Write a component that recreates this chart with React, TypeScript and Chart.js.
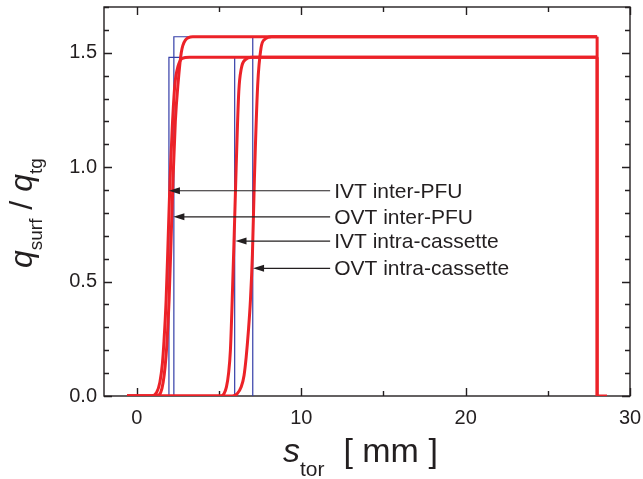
import React, { useEffect, useRef } from "react";
import { Chart, registerables } from "chart.js";

Chart.register(...registerables);

// ---- axis ticks ----
const xTicks = [0, 10, 20, 30];
const yTicks = [0, 0.5, 1.0, 1.5];

// ---- red (smoothed) profiles ----
const ivtInterX = [-0.6, 0.9, 1.2, 1.4, 1.55, 1.65, 1.78, 1.9, 2.02, 2.15, 2.31, 2.5, 2.76, 3.2, 28];
const ivtInterY = [0, 0, 0.015, 0.06, 0.14, 0.24, 0.42, 0.68, 0.95, 1.17, 1.36, 1.44, 1.475, 1.48, 1.48];

const ovtInterX = [-0.6, 1.2, 1.45, 1.6, 1.72, 1.82, 1.96, 2.08, 2.2, 2.34, 2.51, 2.7, 2.95, 3.4, 28];
const ovtInterY = [0, 0, 0.015, 0.06, 0.13, 0.22, 0.42, 0.68, 0.95, 1.2, 1.37, 1.5, 1.555, 1.57, 1.57];

const ivtIntraX = [-0.6, 5.1, 5.3, 5.45, 5.58, 5.69, 5.8, 5.92, 6.04, 6.2, 6.35, 6.6, 7.0, 28];
const ivtIntraY = [0, 0, 0.01, 0.04, 0.1, 0.2, 0.42, 0.7, 1.0, 1.33, 1.43, 1.47, 1.48, 1.48];

const ovtIntraX = [-0.6, 5.8, 6.1, 6.35, 6.52, 6.65, 6.78, 6.91, 7.03, 7.15, 7.35, 7.55, 7.8, 8.2, 28];
const ovtIntraY = [0, 0, 0.01, 0.04, 0.09, 0.17, 0.28, 0.42, 0.62, 0.95, 1.36, 1.52, 1.56, 1.57, 1.57];

// trailing edge of the profiles
const edgeHighX = [28, 28, 28.6];
const edgeHighY = [1.57, 0, 0];
const edgeLowX = [28, 28];
const edgeLowY = [1.48, 0];

// ---- blue ideal steps ----
const stepX = [1.95, 2.25, 5.95, 7.05];
const stepTop = [1.48, 1.57, 1.48, 1.57];
const stepEnd = 28;

// ---- annotations ----
const annLabels = ["IVT inter-PFU", "OVT inter-PFU", "IVT intra-cassette", "OVT intra-cassette"];
const annTipX = [1.95, 2.22, 6.0, 7.07];
const annY = [0.897, 0.783, 0.677, 0.558];
const annTextX = 12;

const RED = "rgb(236,34,40)";
const BLUE = "rgb(52,62,168)";
const INK = "#231f20";
const FONT = "'Liberation Sans', Arial, sans-serif";

const zip = (xs: number[], ys: number[]) => xs.map((x, i) => ({ x, y: ys[i] }));

const decor = {
  id: "decor",
  beforeDatasetsDraw(chart: any) {
    const { ctx, chartArea: a, scales } = chart;
    const xs = scales.x, ys = scales.y;
    ctx.save();
    ctx.strokeStyle = INK;
    ctx.lineWidth = 1.4;
    ctx.strokeRect(a.left, a.top, a.right - a.left, a.bottom - a.top);
    ctx.beginPath();
    for (let k = 0; k <= 17; k++) {
      const v = k / 10;
      const len = k % 5 === 0 ? 8 : 5;
      const py = Math.round(ys.getPixelForValue(v)) + 0.5;
      ctx.moveTo(a.left, py); ctx.lineTo(a.left + len, py);
      ctx.moveTo(a.right, py); ctx.lineTo(a.right - len, py);
    }
    for (let k = 0; k <= 6; k++) {
      const v = k * 5;
      const len = v % 10 === 0 ? 8 : 5;
      const px = Math.round(xs.getPixelForValue(v)) + 0.5;
      ctx.moveTo(px, a.bottom); ctx.lineTo(px, a.bottom - len);
      ctx.moveTo(px, a.top); ctx.lineTo(px, a.top + len);
    }
    ctx.stroke();
    ctx.restore();
  },
  afterDatasetsDraw(chart: any) {
    const { ctx, chartArea: a, scales } = chart;
    const xs = scales.x, ys = scales.y;
    ctx.save();
    // annotations
    ctx.fillStyle = INK;
    ctx.strokeStyle = INK;
    ctx.lineWidth = 1.2;
    ctx.font = `21px ${FONT}`;
    ctx.textBaseline = "middle";
    ctx.textAlign = "left";
    annLabels.forEach((lab, i) => {
      const py = ys.getPixelForValue(annY[i]);
      const tx = xs.getPixelForValue(annTextX);
      const tip = xs.getPixelForValue(annTipX[i]);
      ctx.beginPath();
      ctx.moveTo(tx - 4, py);
      ctx.lineTo(tip + 8, py);
      ctx.stroke();
      ctx.beginPath();
      ctx.moveTo(tip, py);
      ctx.lineTo(tip + 11, py - 3.5);
      ctx.lineTo(tip + 11, py + 3.5);
      ctx.closePath();
      ctx.fill();
      ctx.fillText(lab, tx, py + 1);
    });

    // x title
    ctx.textBaseline = "alphabetic";
    let x0 = a.left + 179;
    const base = a.bottom + 66;
    ctx.font = `italic 34px ${FONT}`;
    ctx.fillText("s", x0, base);
    x0 += ctx.measureText("s").width;
    ctx.font = `21px ${FONT}`;
    ctx.fillText("tor", x0, base + 14);
    x0 += ctx.measureText("tor").width;
    ctx.font = `34px ${FONT}`;
    ctx.fillText("  [ mm ]", x0, base);

    // y title
    ctx.translate(32, a.top + 261);
    ctx.rotate(-Math.PI / 2);
    let t = 0;
    const parts: [string, string, number][] = [
      ["q", `italic 32px ${FONT}`, 0],
      ["surf", `19px ${FONT}`, 10],
      [" / ", `32px ${FONT}`, 0],
      ["q", `italic 32px ${FONT}`, 0],
      ["tg", `19px ${FONT}`, 10],
    ];
    parts.forEach(([s, f, dy]) => {
      ctx.font = f;
      ctx.fillText(s, t, dy);
      t += ctx.measureText(s).width;
    });
    ctx.restore();
  },
};

const zeroPad = (s: any) => {
  s.paddingTop = 0;
  s.paddingBottom = 0;
  s.paddingLeft = 0;
  s.paddingRight = 0;
};

export default function App() {
  const ref = useRef<HTMLCanvasElement | null>(null);
  useEffect(() => {
    if (!ref.current) return;
    const redCurves = [
      zip(ivtInterX, ivtInterY),
      zip(ovtInterX, ovtInterY),
      zip(ivtIntraX, ivtIntraY),
      zip(ovtIntraX, ovtIntraY),
    ];
    const blueSets = stepX.map((sx, i) => ({
      data: [
        { x: sx, y: 0 },
        { x: sx, y: stepTop[i] },
        { x: stepEnd, y: stepTop[i] },
      ],
      borderColor: BLUE,
      borderWidth: 1.2,
      pointRadius: 0,
      tension: 0,
      order: 5,
    }));
    const redSets = redCurves.map((d) => ({
      data: d,
      borderColor: RED,
      borderWidth: 3,
      pointRadius: 0,
      cubicInterpolationMode: "monotone" as const,
      order: 1,
    }));
    const edgeSets = [zip(edgeHighX, edgeHighY), zip(edgeLowX, edgeLowY)].map((d) => ({
      data: d,
      borderColor: RED,
      borderWidth: 3,
      pointRadius: 0,
      tension: 0,
      order: 1,
    }));
    const chart = new Chart(ref.current, {
      type: "line",
      data: { datasets: [...blueSets, ...redSets, ...edgeSets] as any },
      options: {
        animation: false,
        responsive: false,
        devicePixelRatio: 1,
        layout: { padding: { left: 0, top: 7, right: 13, bottom: 0 } },
        plugins: { legend: { display: false }, tooltip: { enabled: false } },
        scales: {
          x: {
            type: "linear",
            min: -2,
            max: 30,
            afterBuildTicks: (s: any) => { s.ticks = xTicks.map((v) => ({ value: v })); },
            afterFit: (s: any) => { s.height = 83; zeroPad(s); },
            ticks: { font: { size: 20, family: FONT }, color: INK, padding: 10, maxRotation: 0, callback: (v: any) => String(v) },
            grid: { display: false, drawTicks: false },
            border: { display: false },
          },
          y: {
            type: "linear",
            min: 0,
            max: 1.7,
            afterBuildTicks: (s: any) => { s.ticks = yTicks.map((v) => ({ value: v })); },
            afterFit: (s: any) => { s.width = 104; zeroPad(s); },
            ticks: { font: { size: 20, family: FONT }, color: INK, padding: 7, callback: (v: any) => Number(v).toFixed(1) },
            grid: { display: false, drawTicks: false },
            border: { display: false },
          },
        },
      },
      plugins: [decor],
    });
    return () => chart.destroy();
  }, []);
  return (
    <div style={{ position: "absolute", left: 0, top: 0, width: 643, height: 479, background: "#fff" }}>
      <canvas ref={ref} width={643} height={479} style={{ width: 643, height: 479 }} />
    </div>
  );
}
